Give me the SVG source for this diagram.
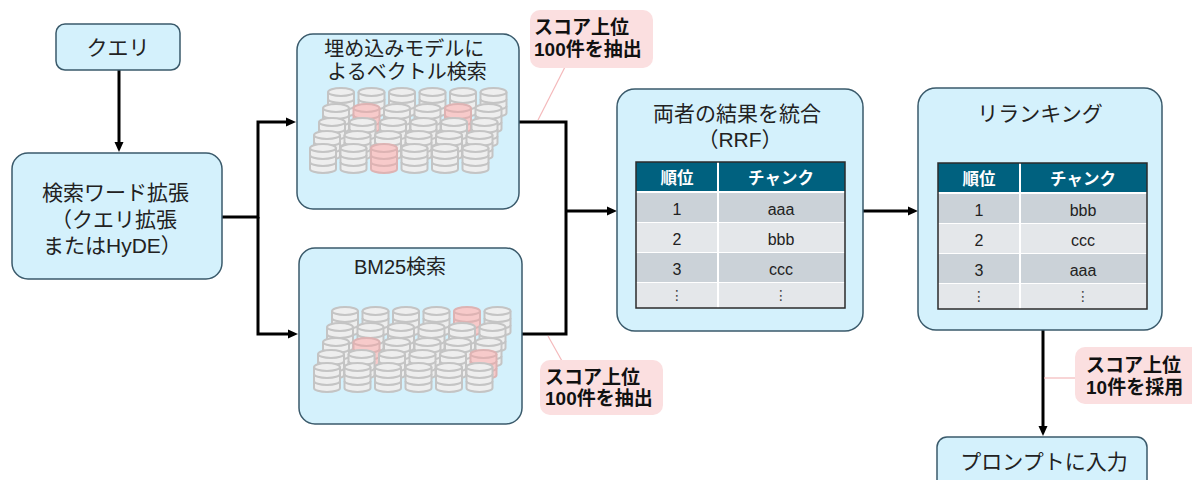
<svg xmlns="http://www.w3.org/2000/svg" xmlns:xlink="http://www.w3.org/1999/xlink" width="1192" height="480" viewBox="0 0 1192 480">
  <style>
    .node { fill: #D4F1FC; stroke: #3A5A6B; stroke-width: 1.5; }
    .lbl { font-family: "Liberation Sans", "Noto Sans CJK JP", sans-serif; font-size: 21px; fill: #222; }
    .tag { fill: #FBDFE0; }
    .tagtxt { font-family: "Liberation Sans", "Noto Sans CJK JP", sans-serif; font-size: 19px; font-weight: bold; fill: #111; }
    .lead { stroke: #F4B9BB; stroke-width: 1.2; fill: none; }
    .wire { stroke: #000; stroke-width: 3; fill: none; stroke-linejoin: miter; }
    .can { fill: #EEEEEE; stroke: #C4C4C4; stroke-width: 2; }
    .hit { fill: #F7CACA; stroke: #DDB3B3; stroke-width: 2; }
    .th { fill: #00617F; }
    .rowA { fill: #CBD2D8; }
    .rowB { fill: #E4E7EA; }
    .thtxt { font-family: "Noto Sans CJK JP", sans-serif; font-size: 16.5px; font-weight: bold; fill: #fff; }
    .td { font-family: "Liberation Sans", Arial, sans-serif; font-size: 16px; fill: #222; }
    .dots { font-family: "DejaVu Sans", sans-serif; font-size: 14px; fill: #444; }
  </style>
  <defs>
    <marker id="arrow" markerUnits="userSpaceOnUse" markerWidth="10" markerHeight="10" refX="2" refY="5" orient="auto">
      <path d="M0,0.5 L10,5 L0,9.5 Z" fill="#000"/>
    </marker>
    <!-- database cylinder: three stacked discs -->
    <g id="db">
      <path d="M0,4 V25 A13,4 0 0 0 26,25 V4"/>
      <ellipse cx="13" cy="4" rx="13" ry="4"/>
      <path d="M0,11 A13,4 0 0 0 26,11 M0,18 A13,4 0 0 0 26,18" fill="none"/>
    </g>
    <!-- results table background -->
    <g id="tableBg">
      <rect x="0" y="0" width="209" height="146" fill="#fff"/>
      <rect class="th" x="0" y="0" width="209" height="29"/>
      <rect class="rowA" x="0" y="31" width="209" height="29"/>
      <rect class="rowB" x="0" y="61" width="209" height="29"/>
      <rect class="rowA" x="0" y="91" width="209" height="29"/>
      <rect class="rowB" x="0" y="121" width="209" height="25"/>
      <line x1="82" y1="0" x2="82" y2="146" stroke="#fff" stroke-width="2"/>
      <rect x="0" y="0" width="209" height="146" fill="none" stroke="#2b2b2b" stroke-width="1.5"/>
    </g>
  </defs>

  <!-- connectors -->
  <g id="connectors">
    <path class="wire" d="M119,70 V144" marker-end="url(#arrow)"/>
    <path class="wire" d="M222,217 H258 V122 H288" marker-end="url(#arrow)"/>
    <path class="wire" d="M258,217 V334 H290" marker-end="url(#arrow)"/>
    <path class="wire" d="M519,122 H566 V334 H522"/>
    <path class="wire" d="M566,211 H609" marker-end="url(#arrow)"/>
    <path class="wire" d="M863,211 H910" marker-end="url(#arrow)"/>
    <path class="wire" d="M1043,330 V428" marker-end="url(#arrow)"/>
    <line class="lead" x1="538" y1="120" x2="565" y2="67"/>
    <line class="lead" x1="548" y1="336" x2="562" y2="361"/>
    <line class="lead" x1="1044" y1="378" x2="1076" y2="378"/>
  </g>

  <!-- query -->
  <g id="query">
    <rect class="node" x="56" y="24" width="124" height="46" rx="9"/>
    <text class="lbl" x="118" y="47.5" text-anchor="middle" dominant-baseline="central">クエリ</text>
  </g>

  <!-- query expansion -->
  <g id="expand">
    <rect class="node" x="12" y="153" width="210" height="126" rx="16"/>
    <text class="lbl" dominant-baseline="central">
      <tspan x="42" y="191.5">検索ワード拡張</tspan>
      <tspan x="51" y="218.5">（クエリ拡張</tspan>
      <tspan x="43" y="244.5">またはHyDE）</tspan>
    </text>
  </g>

  <!-- vector search -->
  <g id="vector">
    <rect class="node" x="297" y="34" width="222" height="175" rx="16"/>
    <text class="lbl" text-anchor="middle" dominant-baseline="central" style="font-size:20px">
      <tspan x="407" y="48.5">埋め込みモデルに</tspan>
      <tspan x="407" y="71.5">よるベクトル検索</tspan>
    </text>
    <g transform="translate(328,88)">
      <use href="#db" class="can" x="0"/><use href="#db" class="can" x="30.5"/><use href="#db" class="can" x="61"/><use href="#db" class="can" x="91.5"/><use href="#db" class="can" x="122"/><use href="#db" class="can" x="152.5"/>
    </g>
    <g transform="translate(323,104)">
      <use href="#db" class="can" x="0"/><use href="#db" class="hit" x="30.5"/><use href="#db" class="can" x="61"/><use href="#db" class="can" x="91.5"/><use href="#db" class="hit" x="122"/><use href="#db" class="can" x="152.5"/>
    </g>
    <g transform="translate(319,118)">
      <use href="#db" class="can" x="0"/><use href="#db" class="can" x="30.5"/><use href="#db" class="can" x="61"/><use href="#db" class="can" x="91.5"/><use href="#db" class="can" x="122"/><use href="#db" class="can" x="152.5"/>
    </g>
    <g transform="translate(314,131)">
      <use href="#db" class="can" x="0"/><use href="#db" class="can" x="30.5"/><use href="#db" class="can" x="61"/><use href="#db" class="can" x="91.5"/><use href="#db" class="can" x="122"/><use href="#db" class="can" x="152.5"/>
    </g>
    <g transform="translate(310,144)">
      <use href="#db" class="can" x="0"/><use href="#db" class="can" x="30.5"/><use href="#db" class="hit" x="61"/><use href="#db" class="can" x="91.5"/><use href="#db" class="can" x="122"/><use href="#db" class="can" x="152.5"/>
    </g>
  </g>

  <!-- BM25 search -->
  <g id="bm25">
    <rect class="node" x="299" y="248" width="223" height="176" rx="16"/>
    <text class="lbl" x="400" y="267" text-anchor="middle" dominant-baseline="central" style="font-size:20px">BM25検索</text>
    <g transform="translate(332,307)">
      <use href="#db" class="can" x="0"/><use href="#db" class="can" x="30.5"/><use href="#db" class="can" x="61"/><use href="#db" class="can" x="91.5"/><use href="#db" class="hit" x="122"/><use href="#db" class="can" x="152.5"/>
    </g>
    <g transform="translate(327,323)">
      <use href="#db" class="can" x="0"/><use href="#db" class="can" x="30.5"/><use href="#db" class="can" x="61"/><use href="#db" class="can" x="91.5"/><use href="#db" class="can" x="122"/><use href="#db" class="can" x="152.5"/>
    </g>
    <g transform="translate(323,338)">
      <use href="#db" class="can" x="0"/><use href="#db" class="hit" x="30.5"/><use href="#db" class="can" x="61"/><use href="#db" class="can" x="91.5"/><use href="#db" class="can" x="122"/><use href="#db" class="can" x="152.5"/>
    </g>
    <g transform="translate(318,350)">
      <use href="#db" class="can" x="0"/><use href="#db" class="can" x="30.5"/><use href="#db" class="can" x="61"/><use href="#db" class="can" x="91.5"/><use href="#db" class="can" x="122"/><use href="#db" class="hit" x="152.5"/>
    </g>
    <g transform="translate(314,363)">
      <use href="#db" class="can" x="0"/><use href="#db" class="can" x="30.5"/><use href="#db" class="can" x="61"/><use href="#db" class="can" x="91.5"/><use href="#db" class="can" x="122"/><use href="#db" class="can" x="152.5"/>
    </g>
  </g>

  <!-- score tags -->
  <g id="tag-vector">
    <rect class="tag" x="530" y="10" width="123" height="58" rx="10"/>
    <text class="tagtxt" dominant-baseline="central">
      <tspan x="534" y="27">スコア上位</tspan>
      <tspan x="534" y="48.5">100件を抽出</tspan>
    </text>
  </g>
  <g id="tag-bm25">
    <rect class="tag" x="540" y="360" width="123" height="55" rx="10"/>
    <text class="tagtxt" dominant-baseline="central">
      <tspan x="545" y="376.5">スコア上位</tspan>
      <tspan x="545" y="398">100件を抽出</tspan>
    </text>
  </g>
  <g id="tag-rerank">
    <rect class="tag" x="1075" y="347" width="130" height="57" rx="10"/>
    <text class="tagtxt" dominant-baseline="central">
      <tspan x="1086" y="365">スコア上位</tspan>
      <tspan x="1086" y="387">10件を採用</tspan>
    </text>
  </g>

  <!-- fusion (RRF) -->
  <g id="fusion">
    <rect class="node" x="617" y="89" width="246" height="242" rx="18"/>
    <text class="lbl" text-anchor="middle" dominant-baseline="central">
      <tspan x="740" y="112.5">両者の結果を統合</tspan>
      <tspan x="740" y="138.5">（RRF）</tspan>
    </text>
    <use href="#tableBg" x="636" y="162"/>
    <text class="thtxt" x="677" y="177" text-anchor="middle" dominant-baseline="central">順位</text>
    <text class="thtxt" x="781" y="177" text-anchor="middle" dominant-baseline="central">チャンク</text>
    <text class="td" x="677" y="209" text-anchor="middle" dominant-baseline="central">1</text>
    <text class="td" x="781" y="209" text-anchor="middle" dominant-baseline="central">aaa</text>
    <text class="td" x="677" y="239" text-anchor="middle" dominant-baseline="central">2</text>
    <text class="td" x="781" y="239" text-anchor="middle" dominant-baseline="central">bbb</text>
    <text class="td" x="677" y="269" text-anchor="middle" dominant-baseline="central">3</text>
    <text class="td" x="781" y="269" text-anchor="middle" dominant-baseline="central">ccc</text>
    <text class="dots" x="677" y="295" text-anchor="middle" dominant-baseline="central">⋮</text>
    <text class="dots" x="781" y="295" text-anchor="middle" dominant-baseline="central">⋮</text>
  </g>

  <!-- reranking -->
  <g id="rerank">
    <rect class="node" x="918" y="88" width="244" height="242" rx="18"/>
    <text class="lbl" x="1040" y="113.5" text-anchor="middle" dominant-baseline="central">リランキング</text>
    <use href="#tableBg" x="938" y="163"/>
    <text class="thtxt" x="979" y="178" text-anchor="middle" dominant-baseline="central">順位</text>
    <text class="thtxt" x="1083" y="178" text-anchor="middle" dominant-baseline="central">チャンク</text>
    <text class="td" x="979" y="210" text-anchor="middle" dominant-baseline="central">1</text>
    <text class="td" x="1083" y="210" text-anchor="middle" dominant-baseline="central">bbb</text>
    <text class="td" x="979" y="240" text-anchor="middle" dominant-baseline="central">2</text>
    <text class="td" x="1083" y="240" text-anchor="middle" dominant-baseline="central">ccc</text>
    <text class="td" x="979" y="270" text-anchor="middle" dominant-baseline="central">3</text>
    <text class="td" x="1083" y="270" text-anchor="middle" dominant-baseline="central">aaa</text>
    <text class="dots" x="979" y="296" text-anchor="middle" dominant-baseline="central">⋮</text>
    <text class="dots" x="1083" y="296" text-anchor="middle" dominant-baseline="central">⋮</text>
  </g>

  <!-- prompt -->
  <g id="prompt">
    <rect class="node" x="937" y="437" width="210" height="60" rx="10"/>
    <text class="lbl" x="1044" y="461" text-anchor="middle" dominant-baseline="central">プロンプトに入力</text>
  </g>
</svg>
